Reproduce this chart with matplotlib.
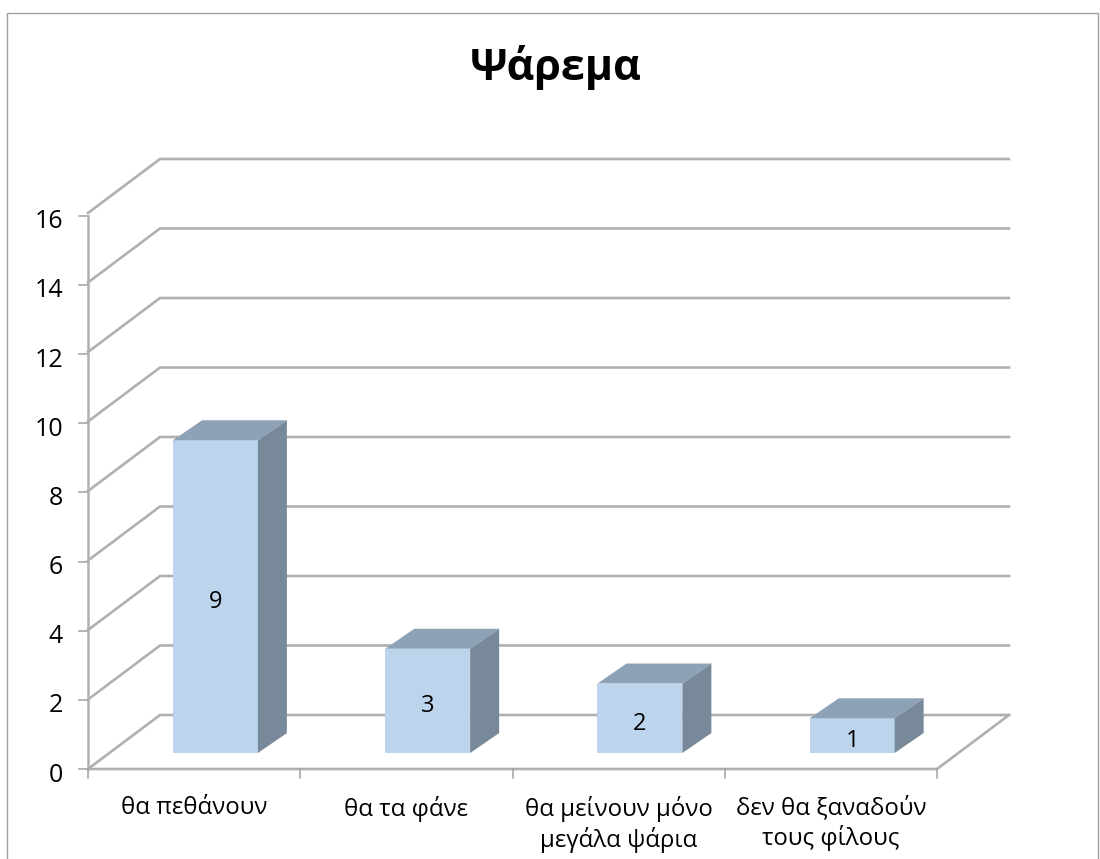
# Ψάρεμα - ψευδο-3D στήλες
import matplotlib
matplotlib.use('Agg')
import matplotlib.pyplot as plt
from matplotlib.patches import Polygon, Rectangle
from matplotlib.transforms import ScaledTranslation

categories = ['θα πεθάνουν', 'θα τα φάνε', 'θα μείνουν μόνο\nμεγάλα ψάρια', 'δεν θα ξαναδούν\nτους φίλους']
values = [9, 3, 2, 1]
yticks = [0, 2, 4, 6, 8, 10, 12, 14, 16]

W, H = 1100, 859
plt.rcParams['font.family'] = ['Open Sans', 'DejaVu Sans']

fig = plt.figure(figsize=(W / 100, H / 100), dpi=100)
# το μπροστινό επίπεδο του γραφήματος
x0, x1 = 88, 937
y0, y1 = 769, 769 - 16 * 34.75
ax = fig.add_axes([x0 / W, 1 - y0 / H, (x1 - x0) / W, (y0 - y1) / H])
ax.set_xlim(0, len(categories))
ax.set_ylim(0, 16)
ax.axis('off')

# βάθος σε μονάδες αξόνων
cat_px = (x1 - x0) / len(categories)
DX = 72 / cat_px
DY = 54 / 34.75
grid = '#b0b0b0'
bar_w = 0.4
d_front, d_back = 0.296, 0.666
bar_dx = 29 / cat_px   # λίγο πιο φαρδιά πλάγια όψη
tick_k = 0.995         # τα ticks του y πέφτουν λίγο πιο κάτω από τις γραμμές


def proj(x, y, d):
    return x + d * DX, y + d * DY


down = ax.transData + ScaledTranslation(0, -6 / 100, fig.dpi_scale_trans)

n = len(categories)
for t in yticks:
    pts = [proj(0, t, 0), proj(0, t, 1), proj(n, t, 1)]
    ax.plot(*zip(*pts), color=grid, lw=1.9, clip_on=False, solid_joinstyle='miter', zorder=1)
    # tick
    ax.plot([-0.042, 0], [t * tick_k, t * tick_k], color='#a0a0a0', lw=1.1, clip_on=False, zorder=1)
    ax.text(-0.118, t * tick_k, str(t), ha='right', va='center', fontsize=18, color='black', transform=down)

# πάτωμα και άξονες
ax.plot([0, n, n + DX], [0, 0, DY], color=grid, lw=1.9, clip_on=False, zorder=1)
ax.plot([0, 0], [0, 16 * tick_k], color=grid, lw=1.8, clip_on=False, zorder=1)
for i in range(n + 1):
    ax.plot([i, i], [0, -0.26], color='#a0a0a0', lw=1.1, clip_on=False, zorder=1)

for i, (c, v) in enumerate(zip(categories, values)):
    l = i + 0.5 - bar_w / 2
    r = i + 0.5 + bar_w / 2
    fl, fr = proj(l, 0, d_front)[0], proj(r, 0, d_front)[0]
    y_base, y_top = proj(0, 0, d_front)[1], proj(0, v, d_front)[1]
    dy = (d_back - d_front) * DY
    front = [(fl, y_base), (fr, y_base), (fr, y_top), (fl, y_top)]
    top = [(fl, y_top), (fr, y_top), (fr + bar_dx, y_top + dy), (fl + bar_dx, y_top + dy)]
    side = [(fr, y_base), (fr + bar_dx, y_base + dy), (fr + bar_dx, y_top + dy), (fr, y_top)]
    ax.add_patch(Polygon(front, fc='#bcd5ec', ec='none', clip_on=False, zorder=3))
    ax.add_patch(Polygon(top, fc='#8da2b6', ec='none', clip_on=False, zorder=3))
    ax.add_patch(Polygon(side, fc='#788999', ec='none', clip_on=False, zorder=3))
    xc, yc = proj(i + 0.5, v / 2 - 0.16, d_front)
    ax.text(xc, yc, str(v), ha='center', va='center', fontsize=17, color='black', zorder=4)
    ax.text(i + 0.5, -0.78, c, ha='center', va='top', fontsize=17.3, color='black', linespacing=1.22)

fig.text(556 / W, 1 - 68 / H, 'Ψάρεμα', ha='center', va='center', fontsize=31, fontweight='bold', color='black')

# πλαίσιο
fig.add_artist(Rectangle((7 / W, -0.05), 1091 / W, 1.05 - 13 / H, transform=fig.transFigure,
                         fc='none', ec='#a0a0a0', lw=1.0))

fig.savefig('out.png', dpi=100)
